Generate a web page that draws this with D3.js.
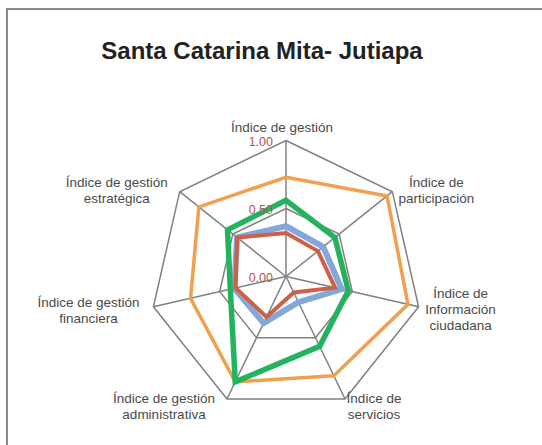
<!DOCTYPE html>
<html>
<head>
<meta charset="utf-8">
<script src="https://cdn.jsdelivr.net/npm/d3@7"></script>
<style>
  body { margin: 0; background: #fff; }
  svg text { font-family: "Liberation Sans", Arial, Helvetica, sans-serif; }
</style>
</head>
<body>
<svg id="radar-svg"></svg>
<script>
const width = 542, height = 445;

// data
const categories = [
  "Índice de gestión",
  "Índice de\nparticipación",
  "Índice de\nInformación\nciudadana",
  "Índice de\nservicios",
  "Índice de gestión\nadministrativa",
  "Índice de gestión\nfinanciera",
  "Índice de gestión\nestratégica"
];
const tickValues = [0, 0.5, 1];
const orangeValues = [0.73, 0.95, 0.92, 0.81, 0.86, 0.72, 0.82];
const greenValues  = [0.56, 0.46, 0.47, 0.57, 0.86, 0.42, 0.55];
const blueValues   = [0.37, 0.35, 0.42, 0.21, 0.38, 0.39, 0.46];
const redValues    = [0.32, 0.30, 0.37, 0.13, 0.33, 0.38, 0.46];

const series = [
  { name: "Serie 1", values: blueValues,   color: "#82a8d9", width: 6 },
  { name: "Serie 2", values: redValues,    color: "#cf5f47", width: 4 },
  { name: "Serie 3", values: orangeValues, color: "#f0a04e", width: 3.5 },
  { name: "Serie 4", values: greenValues,  color: "#23b35f", width: 5.5 }
];

const cx = 286, cy = 276.5, R = 136;

// offsets of each label block centre from its axis end
const labelOffsets = [[-4, -13], [44, -2], [42, 2.5], [29, 7], [-63, 7], [-65, 3], [-63, -2]];

const svg = d3.select("#radar-svg")
  .attr("width", width)
  .attr("height", height);

// outer frame (runs off the right and bottom edges)
svg.append("rect")
  .attr("x", 7).attr("y", 9)
  .attr("width", 620).attr("height", 520)
  .attr("fill", "none")
  .attr("stroke", "#8a8a8a")
  .attr("stroke-width", 2);

svg.append("text")
  .attr("x", 262)
  .attr("y", 59)
  .attr("text-anchor", "middle")
  .style("font-size", "24px")
  .style("font-weight", "bold")
  .attr("fill", "#222")
  .text("Santa Catarina Mita- Jutiapa");

const g = svg.append("g")
  .attr("transform", `translate(${cx},${cy})`);

const r = d3.scaleLinear().domain([0, 1]).range([0, R]);
const angle = d3.scalePoint()
  .domain(d3.range(categories.length + 1))
  .range([0, 2 * Math.PI]);

const radial = d3.lineRadial()
  .angle((d, i) => angle(i))
  .radius(d => r(d))
  .curve(d3.curveLinearClosed);

// grid polygons
g.selectAll(".grid")
  .data(tickValues.filter(v => v > 0))
  .join("path")
  .attr("class", "grid")
  .attr("d", v => radial(categories.map(() => v)))
  .attr("fill", "none")
  .attr("stroke", "#808080")
  .attr("stroke-width", 1.5);

// spokes
g.selectAll(".spoke")
  .data(categories)
  .join("line")
  .attr("class", "spoke")
  .attr("x1", 0).attr("y1", 0)
  .attr("x2", (d, i) => r(1) * Math.sin(angle(i)))
  .attr("y2", (d, i) => -r(1) * Math.cos(angle(i)))
  .attr("stroke", "#808080")
  .attr("stroke-width", 1.5);

// series
g.selectAll(".series")
  .data(series)
  .join("path")
  .attr("class", "series")
  .attr("d", d => radial(d.values))
  .attr("fill", "none")
  .attr("stroke", d => d.color)
  .attr("stroke-width", d => d.width)
  .attr("stroke-linejoin", "miter");

// tick labels
g.selectAll(".tick-label")
  .data(tickValues)
  .join("text")
  .attr("class", "tick-label")
  .attr("x", -13)
  .attr("y", d => -r(d) + 5.5)
  .attr("text-anchor", "end")
  .style("font-size", "12.5px")
  .attr("fill", "#b5534e")
  .text(d => d3.format(".2f")(d));

// axis labels
const lineH = 16;
categories.forEach((c, i) => {
  const lines = c.split("\n");
  const x = r(1) * Math.sin(angle(i)) + labelOffsets[i][0];
  const y = -r(1) * Math.cos(angle(i)) + labelOffsets[i][1];
  const t = g.append("text")
    .attr("text-anchor", "middle")
    .style("font-size", "13.5px")
    .attr("fill", "#4a4a4a");
  lines.forEach((l, j) => {
    t.append("tspan")
      .attr("x", x)
      .attr("y", y + (j - (lines.length - 1) / 2) * lineH + 4.8)
      .text(l);
  });
});
</script>
</body>
</html>
